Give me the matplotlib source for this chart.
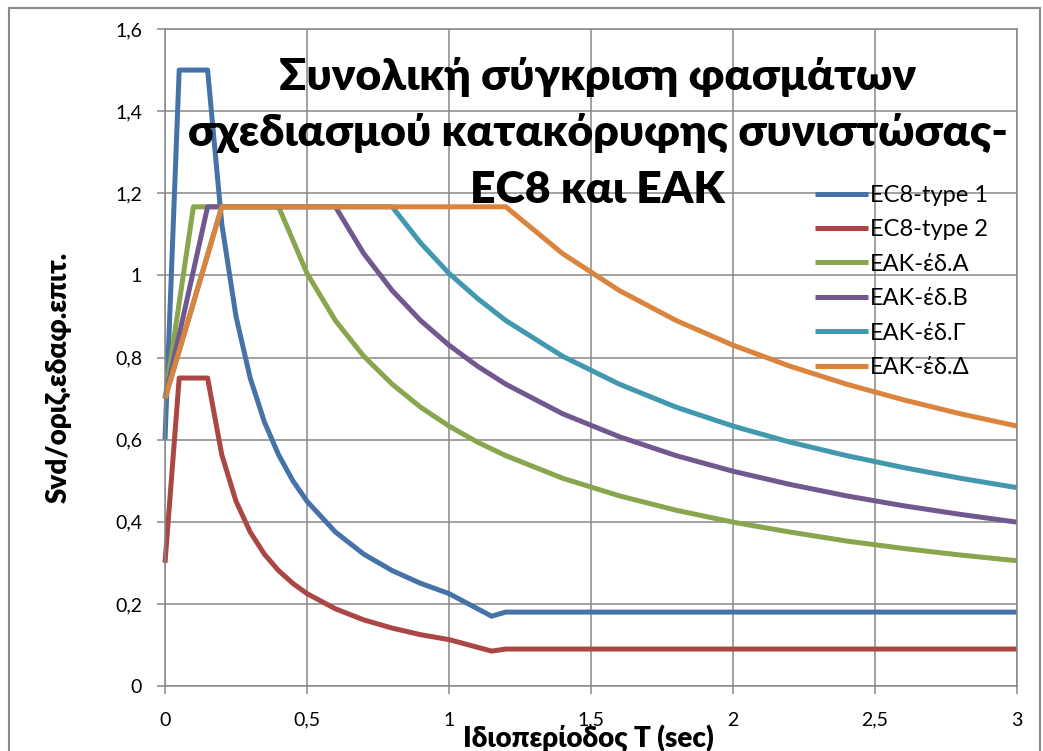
import matplotlib
matplotlib.use("Agg")
import matplotlib.pyplot as plt
from matplotlib.patches import Rectangle

plt.rcParams['font.family'] = ['Lato', 'Open Sans', 'DejaVu Sans']

# EC8 vertical spectra (period T in sec, Svd / horizontal ground acc.)
T_ec8 = [0, 0.05, 0.15, 0.2, 0.25, 0.3, 0.35, 0.4, 0.45, 0.5, 0.6, 0.7, 0.8, 0.9,
         1.0, 1.15, 1.2, 1.5, 2.0, 2.5, 3.0]
ec8_type1 = [0.6, 1.5, 1.5, 1.125, 0.9, 0.75, 0.643, 0.563, 0.5, 0.45, 0.375, 0.321,
             0.281, 0.25, 0.225, 0.17, 0.18, 0.18, 0.18, 0.18, 0.18]
ec8_type2 = [0.3, 0.75, 0.75, 0.563, 0.45, 0.375, 0.321, 0.281, 0.25, 0.225, 0.188,
             0.161, 0.141, 0.125, 0.113, 0.085, 0.09, 0.09, 0.09, 0.09, 0.09]

# EAK spectra per soil category
T_eak = [0, 0.1, 0.15, 0.2, 0.3, 0.4, 0.5, 0.6, 0.7, 0.8, 0.9, 1.0, 1.1, 1.2,
         1.4, 1.6, 1.8, 2.0, 2.2, 2.4, 2.6, 2.8, 3.0]
eak_A = [0.7, 1.167, 1.167, 1.167, 1.167, 1.167, 1.005, 0.890, 0.803, 0.735, 0.679,
         0.633, 0.594, 0.561, 0.506, 0.463, 0.428, 0.399, 0.375, 0.353, 0.335, 0.319, 0.305]
eak_B = [0.7, 1.011, 1.167, 1.167, 1.167, 1.167, 1.167, 1.167, 1.053, 0.963, 0.890,
         0.830, 0.779, 0.735, 0.663, 0.607, 0.561, 0.523, 0.491, 0.463, 0.439, 0.418, 0.399]
eak_G = [0.7, 0.933, 1.05, 1.167, 1.167, 1.167, 1.167, 1.167, 1.167, 1.167, 1.079,
         1.005, 0.944, 0.890, 0.803, 0.735, 0.679, 0.633, 0.594, 0.561, 0.532, 0.506, 0.483]
eak_D = [0.7, 0.933, 1.05, 1.167, 1.167, 1.167, 1.167, 1.167, 1.167, 1.167, 1.167,
         1.167, 1.167, 1.167, 1.053, 0.963, 0.890, 0.830, 0.779, 0.735, 0.697, 0.663, 0.633]

labels = ["EC8-type 1", "EC8-type 2", "ΕΑΚ-έδ.Α", "ΕΑΚ-έδ.Β", "ΕΑΚ-έδ.Γ", "ΕΑΚ-έδ.Δ"]
colors = ["#4572A7", "#AA4643", "#89A54E", "#71588F", "#4198AF", "#DB843D"]

xticks = [0, 0.5, 1, 1.5, 2, 2.5, 3]
xticklabels = ["0", "0,5", "1", "1,5", "2", "2,5", "3"]
yticks = [0, 0.2, 0.4, 0.6, 0.8, 1.0, 1.2, 1.4, 1.6]
yticklabels = ["0", "0,2", "0,4", "0,6", "0,8", "1", "1,2", "1,4", "1,6"]

fig = plt.figure(figsize=(10.43, 7.51), dpi=100)
ax = fig.add_axes([165 / 1043, 65 / 751, 852 / 1043, 657 / 751])

series = [(T_ec8, ec8_type1), (T_ec8, ec8_type2), (T_eak, eak_A),
          (T_eak, eak_B), (T_eak, eak_G), (T_eak, eak_D)]
for (xs, ys), lab, col in zip(series, labels, colors):
    ax.plot(xs, ys, color=col, lw=3.6, label=lab, solid_joinstyle='round',
            solid_capstyle='butt', clip_on=False)

grid_c = '#878787'
ax.set_xlim(0, 3)
ax.set_ylim(0, 1.6)
ax.set_xticks(xticks)
ax.set_xticklabels(xticklabels)
ax.set_yticks(yticks)
ax.set_yticklabels(yticklabels)
ax.tick_params(axis='both', direction='out', length=5.5, width=1.1, color=grid_c,
               labelsize=14, labelcolor='black')
ax.tick_params(axis='x', pad=13)
ax.tick_params(axis='y', pad=11)
ax.grid(True, color=grid_c, lw=1.1)
ax.set_axisbelow(True)
for s in ax.spines.values():
    s.set_color(grid_c)
    s.set_linewidth(1.1)

# axis titles sit where Excel put them (x title overlaps the tick labels there too)
ax.set_ylabel("Svd/οριζ.εδαφ.επιτ.", fontsize=20, fontweight='heavy')
ax.yaxis.set_label_coords(-0.11, 0.47)
ax.set_xlabel("Ιδιοπερίοδος T (sec)", fontsize=20, fontweight='heavy')
ax.xaxis.set_label_coords(0.497, -0.08)
ax.xaxis.label.set_va('center')

ax.text(0.508, 0.958, "Συνολική σύγκριση φασμάτων\nσχεδιασμού κατακόρυφης συνιστώσας-\nEC8 και ΕΑΚ",
        transform=ax.transAxes, ha='center', va='top', fontsize=32, fontweight='heavy',
        linespacing=1.5)

leg = ax.legend(loc='upper left', bbox_to_anchor=(803 / 1043, 1 - 173 / 751),
                bbox_transform=fig.transFigure, frameon=False, fontsize=17,
                handlelength=2.25, handletextpad=0.08, labelspacing=0.57, borderpad=0)

fig.patches.append(Rectangle((9 / 1043, -0.02), 1031 / 1043, 1 - 8 / 751 + 0.02,
                             transform=fig.transFigure, fill=False,
                             edgecolor='#8a8a8a', lw=1.5))

fig.savefig("out.png", dpi=100)
